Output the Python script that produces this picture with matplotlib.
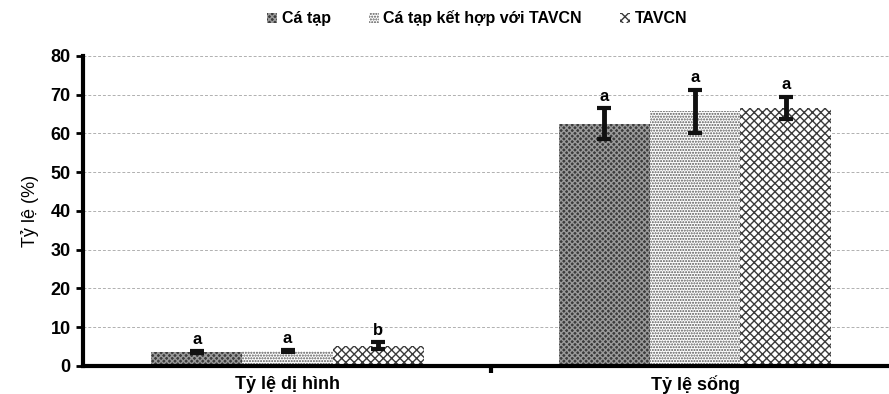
import numpy as np
import matplotlib.pyplot as plt

plt.rcParams['font.family'] = ['Liberation Sans', 'DejaVu Sans']

categories = ["Tỷ lệ dị hình", "Tỷ lệ sống"]
series = ["Cá tạp", "Cá tạp kết hợp với TAVCN", "TAVCN"]
means = [[3.5, 62.5],
         [3.8, 65.7],
         [5.2, 66.6]]
errs = [[0.25, 4.0],
        [0.25, 5.6],
        [0.9, 2.9]]
letters = [["a", "a"],
           ["a", "a"],
           ["b", "a"]]

faces = ['#3c3c3c', 'white', 'white']
hatch_cols = ['#9a9a9a', '#555555', '#3a3a3a']
hatches = ['xxxxxx', '......', 'xxxx']

fig = plt.figure(figsize=(8.89, 3.94), dpi=100)
ax = fig.add_axes([0.0934, 0.0711, 0.9066, 0.787])

x = np.arange(len(categories))
w = 0.223
for i in range(len(series)):
    pos = x + (i - 1) * w
    ax.bar(pos, means[i], w, color=faces[i], edgecolor=hatch_cols[i],
           hatch=hatches[i], linewidth=0, label=series[i], zorder=2)
    ax.errorbar(pos, means[i], yerr=errs[i], fmt='none', ecolor='#111111',
                elinewidth=3.5, capsize=5, capthick=3, zorder=3)
    for j in range(len(categories)):
        ax.text(pos[j], means[i][j] + errs[i][j] + 1.2, letters[i][j],
                ha='center', va='bottom', fontsize=12, fontweight='bold')

ax.set_xlim(-0.502, 1.476)
ax.set_ylim(0, 80)
ax.set_yticks(range(0, 81, 10))
ax.set_xticks([0.5])
ax.set_xticklabels([''])
ax.set_xticks(x, minor=True)
ax.set_xticklabels(categories, minor=True, fontsize=13, fontweight='bold')
ax.tick_params(axis='x', which='minor', length=0, pad=7)
ax.tick_params(axis='x', which='major', length=5, width=3, direction='out')
ax.tick_params(axis='y', length=5, width=2, direction='out', labelsize=13, pad=4)
for lab in ax.get_yticklabels():
    lab.set_fontweight('bold')

for s in ['top', 'right']:
    ax.spines[s].set_visible(False)
for s in ['left', 'bottom']:
    ax.spines[s].set_linewidth(3)

ax.yaxis.grid(True, color='#b0b0b0', linestyle=(0, (3, 2)), linewidth=0.7, zorder=0)
ax.set_axisbelow(True)
ax.set_ylabel("Tỷ lệ (%)", fontsize=13, labelpad=8)

fig.legend(loc='upper center', bbox_to_anchor=(0.537, 1.01), ncol=3, frameon=False,
           prop={'weight': 'bold', 'size': 11.5}, handlelength=0.6, handleheight=0.6,
           handletextpad=0.3, columnspacing=2.4)

fig.savefig('out.png')
